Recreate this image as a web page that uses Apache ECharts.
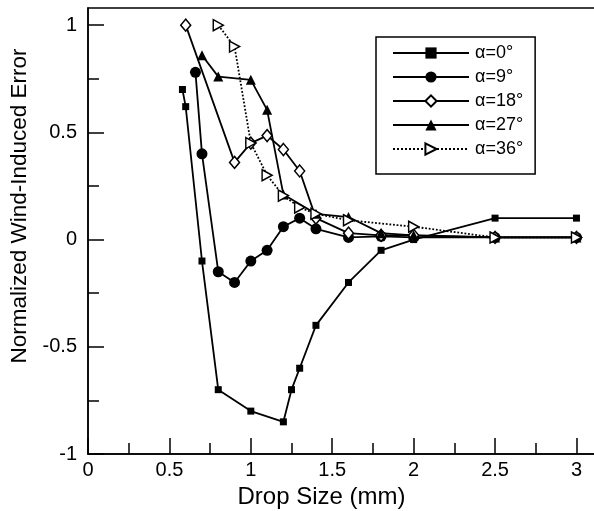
<!DOCTYPE html>
<html>
<head>
<meta charset="utf-8">
<script src="https://cdn.jsdelivr.net/npm/echarts@6/dist/echarts.min.js"></script>
<style>html,body{margin:0;padding:0;background:#fff}#c{width:594px;height:511px}</style>
</head>
<body>
<div id="c"></div>
<script>
// Data (drop size mm, normalized error)
const seriesNames = ['α=0°', 'α=9°', 'α=18°', 'α=27°', 'α=36°'];
const a0 = [[0.58,0.70],[0.60,0.62],[0.70,-0.10],[0.80,-0.70],[1.00,-0.80],[1.20,-0.85],[1.25,-0.70],[1.30,-0.60],[1.40,-0.40],[1.60,-0.20],[1.80,-0.05],[2.00,0.00],[2.50,0.10],[3.00,0.10]];
const a9 = [[0.66,0.78],[0.70,0.40],[0.80,-0.15],[0.90,-0.20],[1.00,-0.10],[1.10,-0.05],[1.20,0.06],[1.30,0.10],[1.40,0.05],[1.60,0.01],[1.80,0.015],[2.00,0.01],[2.50,0.01],[3.00,0.01]];
const a18 = [[0.60,1.00],[0.90,0.36],[1.00,0.45],[1.10,0.485],[1.20,0.42],[1.30,0.32],[1.40,0.10],[1.60,0.03],[1.80,0.02],[2.00,0.02],[2.50,0.01],[3.00,0.01]];
const a27 = [[0.70,0.86],[0.80,0.76],[1.00,0.745],[1.10,0.605],[1.20,0.21],[1.40,0.12],[1.60,0.105],[1.80,0.03],[2.00,0.02],[2.50,0.01],[3.00,0.01]];
const a36 = [[0.80,1.00],[0.90,0.90],[1.00,0.45],[1.10,0.30],[1.20,0.205],[1.30,0.15],[1.40,0.12],[1.60,0.09],[2.00,0.06],[2.50,0.01],[3.00,0.01]];
const xMajorTicks = [0, 0.5, 1, 1.5, 2, 2.5, 3];
const xMinorTicks = [0.25, 0.75, 1.25, 1.75, 2.25, 2.75];
const yMajorTicks = [-1, -0.5, 0, 0.5, 1];
const yMinorTicks = [-0.75, -0.25, 0.25, 0.75];

const FONT = 'Liberation Sans, Arial, sans-serif';
const chart = echarts.init(document.getElementById('c'));

function mkSeries(name, data, symbol, size, open, dotted) {
  return {
    name, type: 'line', data, xAxisIndex: 0, yAxisIndex: 0,
    symbol, symbolSize: size, showAllSymbol: true,
    lineStyle: { color: '#000', width: 1.8, type: dotted ? 'dotted' : 'solid' },
    itemStyle: open ? { color: '#fff', borderColor: '#000', borderWidth: 1.5 } : { color: '#000' },
    emphasis: { disabled: true }
  };
}

const tickStyle = { color: '#000', width: 1.5 };

chart.setOption({
  animation: false,
  backgroundColor: '#fff',
  textStyle: { fontFamily: FONT },
  grid: { left: 88, top: 8, right: -2, bottom: 57, show: true, borderColor: '#000', borderWidth: 1.5, backgroundColor: 'transparent', outerBoundsMode: 'none', containLabel: false },
  legend: {
    orient: 'vertical', left: 376, top: 37,
    padding: [7, 12, 16, 16],
    itemWidth: 76, itemHeight: 14, itemGap: 6,
    borderColor: '#000', borderWidth: 1.5, backgroundColor: '#fff',
    textStyle: { fontFamily: FONT, fontSize: 18, color: '#000', padding: [0,0,0,1] },
    data: seriesNames
  },
  xAxis: [{
    type: 'value', min: 0, max: 3.12, position: 'bottom',
    axisLine: { show: true, onZero: false, lineStyle: tickStyle },
    axisTick: { show: true, inside: true, length: 16, lineStyle: tickStyle, customValues: xMajorTicks },
    axisLabel: { fontFamily: FONT, fontSize: 20, color: '#000', margin: 6, customValues: xMajorTicks },
    splitLine: { show: false },
    name: 'Drop Size (mm)', nameLocation: 'middle', nameGap: 31,
    nameTextStyle: { fontFamily: FONT, fontSize: 24, color: '#000', padding: [0, 41, 0, 0] }
  }, {
    type: 'value', min: 0, max: 3.12, position: 'bottom', offset: 0,
    axisLine: { show: false, onZero: false },
    axisTick: { show: true, inside: true, length: 11, lineStyle: tickStyle, customValues: xMinorTicks },
    axisLabel: { show: false },
    splitLine: { show: false }
  }],
  yAxis: [{
    type: 'value', min: -1, max: 1.08, position: 'left',
    axisLine: { show: true, onZero: false, lineStyle: tickStyle },
    axisTick: { show: true, inside: true, length: 16, lineStyle: tickStyle, customValues: yMajorTicks },
    axisLabel: { fontFamily: FONT, fontSize: 20, color: '#000', margin: 11, customValues: yMajorTicks },
    splitLine: { show: false },
    name: 'Normalized Wind-Induced Error', nameLocation: 'middle', nameGap: 45,
    nameTextStyle: { fontFamily: FONT, fontSize: 22.5, color: '#000', padding: [0, 0, 0, 50] }
  }, {
    type: 'value', min: -1, max: 1.08, position: 'left', offset: 0,
    axisLine: { show: false, onZero: false },
    axisTick: { show: true, inside: true, length: 11, lineStyle: tickStyle, customValues: yMinorTicks },
    axisLabel: { show: false },
    splitLine: { show: false }
  }],
  series: [
    mkSeries(seriesNames[0], a0, 'rect', 7, false, false),
    mkSeries(seriesNames[1], a9, 'circle', 11, false, false),
    mkSeries(seriesNames[2], a18, 'diamond', [10, 12], true, false),
    mkSeries(seriesNames[3], a27, 'triangle', 10, false, false),
    mkSeries(seriesNames[4], a36, 'path://M0,0 L10,5 L0,10 Z', [10, 11], true, true)
  ]
});
</script>
</body>
</html>
